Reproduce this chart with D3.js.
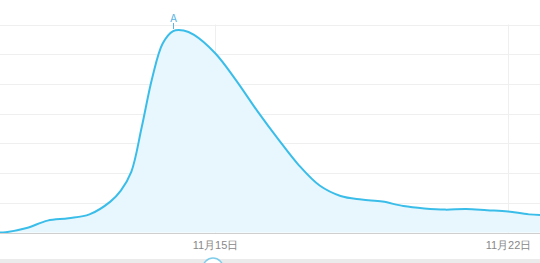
<!DOCTYPE html>
<html>
<head>
<meta charset="utf-8">
<script src="https://cdn.jsdelivr.net/npm/d3@7"></script>
<style>
  html, body { margin: 0; padding: 0; background: #fff; overflow: hidden; }
  svg { display: block; font-family: "Noto Sans CJK SC", "DejaVu Sans", sans-serif; }
</style>
</head>
<body>
<div id="chart"></div>
<script>
// sample times (denser around the spike) and values
var dates = ["2013-11-09T12:00", "2013-11-10T00:00", "2013-11-10T12:00", "2013-11-11T00:00",
             "2013-11-11T12:00", "2013-11-12T00:00", "2013-11-12T12:00", "2013-11-12T18:00",
             "2013-11-13T00:00", "2013-11-13T06:00", "2013-11-13T12:00", "2013-11-13T18:00",
             "2013-11-14T00:00", "2013-11-14T06:00", "2013-11-14T12:00",
             "2013-11-15T00:00", "2013-11-15T12:00", "2013-11-16T00:00", "2013-11-16T12:00",
             "2013-11-17T00:00", "2013-11-17T12:00", "2013-11-18T00:00", "2013-11-18T12:00",
             "2013-11-19T00:00", "2013-11-19T12:00", "2013-11-20T00:00", "2013-11-20T12:00",
             "2013-11-21T00:00", "2013-11-21T12:00", "2013-11-22T00:00", "2013-11-22T12:00",
             "2013-11-23T00:00"];
var values = [0, 0.1, 1.5, 4.0,
              4.8, 6.1, 10.4, 14.1,
              20.4, 35.5, 52.0, 63.6,
              67.8, 68.0, 66.5,
              60.4, 51.3, 41.1, 31.6,
              22.7, 15.8, 12.3, 11.1,
              10.4, 8.9, 8.1, 7.7,
              7.9, 7.5, 7.1, 6.1,
              5.9];
var yTicks = [10, 20, 30, 40, 50, 60, 70];
var xTicks = [new Date(2013, 10, 15), new Date(2013, 10, 22)];
var flagDate = new Date(2013, 10, 14);
var flagText = "A";

var parseTime = d3.timeParse("%Y-%m-%dT%H:%M");
var data = dates.map(function(d, i) {
  return { date: parseTime(d), value: values[i] };
});

var width = 540, height = 263;
var svg = d3.select("#chart").append("svg")
    .attr("width", width)
    .attr("height", height);

// 11/15 sits at x=215, 11/22 at x=508; the rest is extrapolated
var xScale = d3.scaleTime()
    .domain(xTicks)
    .range([215, 508]);
var yScale = d3.scaleLinear()
    .domain([0, 70])
    .range([232.5, 24.5]);

svg.append("defs").append("clipPath")
    .attr("id", "clip")
  .append("rect")
    .attr("x", 0).attr("y", 0)
    .attr("width", width).attr("height", 233);

// horizontal grid
svg.append("g").selectAll("line")
    .data(yTicks).enter().append("line")
    .attr("x1", 0).attr("x2", width)
    .attr("y1", function(d) { return Math.round(yScale(d)) + 0.5; })
    .attr("y2", function(d) { return Math.round(yScale(d)) + 0.5; })
    .style("stroke", "#efefef");

// vertical grid
svg.append("g").selectAll("line")
    .data(xTicks).enter().append("line")
    .attr("x1", function(d) { return Math.round(xScale(d)) + 0.5; })
    .attr("x2", function(d) { return Math.round(xScale(d)) + 0.5; })
    .attr("y1", yScale(70)).attr("y2", yScale(0))
    .style("stroke", "#efefef");

var curve = d3.curveCatmullRom.alpha(0.5);
var area = d3.area()
    .x(function(d) { return xScale(d.date); })
    .y0(yScale(0))
    .y1(function(d) { return yScale(d.value); })
    .curve(curve);
var line = d3.line()
    .x(function(d) { return xScale(d.date); })
    .y(function(d) { return yScale(d.value); })
    .curve(curve);

var plot = svg.append("g").attr("clip-path", "url(#clip)");
plot.append("path")
    .datum(data)
    .attr("d", area)
    .style("fill", "#e8f7fd");
plot.append("path")
    .datum(data)
    .attr("d", line)
    .style("fill", "none")
    .style("stroke", "#3bbde9")
    .style("stroke-width", 2);

// x axis baseline + labels
var xAxis = d3.axisBottom(xScale)
    .tickValues(xTicks)
    .tickSize(0)
    .tickPadding(8)
    .tickFormat(d3.timeFormat("%-m月%-d日"));
var gX = svg.append("g")
    .attr("transform", "translate(0," + (Math.round(yScale(0)) + 0.5) + ")")
    .call(xAxis);
gX.select(".domain").remove();
gX.append("line")
    .attr("x1", 0).attr("x2", width)
    .style("stroke", "#cfcfcf");
gX.selectAll("text")
    .style("font-size", "11px")
    .style("fill", "#888");

// flag marker
var fx = Math.round(xScale(flagDate)) + 0.5;
svg.append("line")
    .attr("x1", fx).attr("x2", fx)
    .attr("y1", 23).attr("y2", 29)
    .style("stroke", "#5ab3e2");
svg.append("text")
    .attr("x", fx).attr("y", 22)
    .attr("text-anchor", "middle")
    .style("font-size", "11px")
    .style("fill", "#5ab3e2")
    .text(flagText);

// navigator strip at the bottom
svg.append("rect")
    .attr("x", 0).attr("y", 259)
    .attr("width", width).attr("height", 4)
    .style("fill", "#ebebeb");
svg.append("circle")
    .attr("cx", 213).attr("cy", 268)
    .attr("r", 10)
    .style("fill", "#fff")
    .style("stroke", "#7fcdea")
    .style("stroke-width", 1.5);
</script>
</body>
</html>
